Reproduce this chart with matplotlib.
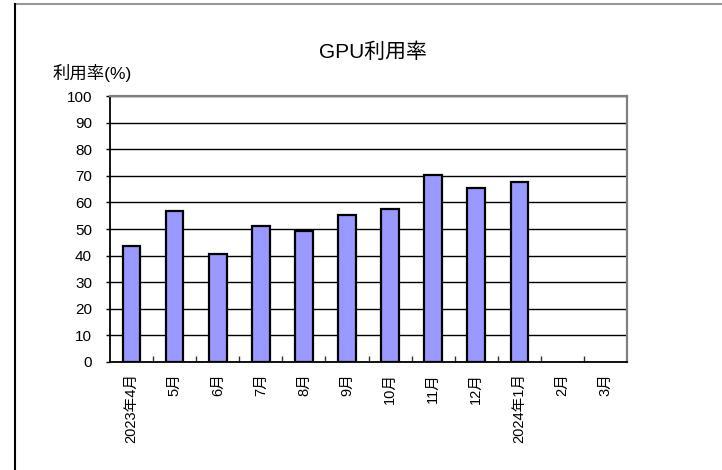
import matplotlib
matplotlib.use("Agg")
import matplotlib.pyplot as plt
from matplotlib.lines import Line2D

plt.rcParams['font.family'] = ['Liberation Sans', 'Noto Sans CJK JP', 'DejaVu Sans']

# months (fiscal year 2023)
months = ['2023年4月', '5月', '6月', '7月', '8月', '9月',
          '10月', '11月', '12月', '2024年1月', '2月', '3月']
# GPU utilisation (%) -- Feb/Mar not yet available
usage = [43.6, 56.8, 40.5, 51.2, 49.4, 55.3, 57.4, 70.4, 65.5, 67.5, None, None]

fig = plt.figure(figsize=(7.22, 4.70), dpi=100)
ax = fig.add_axes([0.1524, 0.2298, 0.7161, 0.5659])

xs = [i for i, v in enumerate(usage) if v is not None]
vals = [v for v in usage if v is not None]
ax.bar(xs, vals, width=0.41, color='#9999FF', edgecolor='black', linewidth=1.6, zorder=3)

ax.set_xlim(-0.5, len(months) - 0.5)
ax.set_ylim(0, 100)
ax.set_yticks(range(0, 101, 10))
ax.yaxis.grid(True, color='black', linewidth=1.0, zorder=0)

ax.set_xticks(range(len(months)))
ax.set_xticklabels(months, rotation=90, fontsize=10.5)
ax.tick_params(axis='x', length=0, pad=8)
# small tick marks between categories
ax.set_xticks([i + 0.5 for i in range(len(months) - 1)], minor=True)
ax.tick_params(axis='x', which='minor', direction='in', length=4, width=1, color='#333333')
ax.tick_params(axis='y', length=3, width=1, labelsize=11, pad=10)

ax.spines['left'].set_color('black')
ax.spines['bottom'].set_color('black')
ax.spines['left'].set_linewidth(1.3)
ax.spines['bottom'].set_linewidth(1.3)
ax.spines['top'].set_color('#808080')
ax.spines['right'].set_color('#808080')
ax.spines['top'].set_linewidth(1.6)
ax.spines['right'].set_linewidth(1.6)

fig.text(0.517, 0.889, 'GPU利用率', ha='center', va='center', fontsize=15)
fig.text(0.073, 0.845, '利用率(%)', ha='left', va='center', fontsize=12.5)

# chart frame (cropped)
fig.add_artist(Line2D([15 / 722, 1], [1 - 4 / 470, 1 - 4 / 470], color='#999999', linewidth=1.5))
fig.add_artist(Line2D([15 / 722, 15 / 722], [0, 1 - 4 / 470], color='black', linewidth=1.5))

fig.savefig('out.png', dpi=100)
